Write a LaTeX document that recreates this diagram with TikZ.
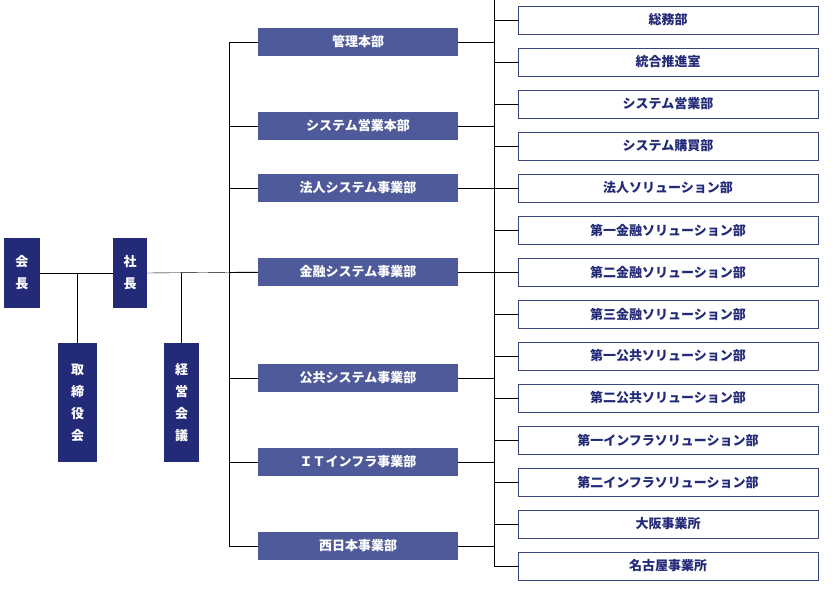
\documentclass[tikz,border=0pt]{standalone}
\usepackage{fontspec}
\newfontfamily\cjk{Noto Sans CJK JP}
\definecolor{navy}{HTML}{232B79}
\definecolor{midblue}{HTML}{4E5A99}
\definecolor{framegray}{HTML}{3A4580}
\begin{document}
\begin{tikzpicture}[x=1pt, y=-1pt,
	every node/.style = {font=\cjk\bfseries\fontsize{13}{16}\selectfont},
	top/.style = {fill=navy, text=white, minimum width=36pt, align=center, inner sep=0pt},
	dept/.style = {fill=midblue, text=white, minimum width=200pt, minimum height=28pt, inner sep=0pt},
	unit/.style = {draw=framegray, fill=white, text=navy, minimum width=300pt, minimum height=28pt, inner sep=0pt}]

	\useasboundingbox (0, 0) rectangle (839, 589);

	% Top management

	\node [top, minimum height=70pt] (kaicho) at (22, 273) {会\\[6pt]長};
	\node [top, minimum height=70pt, minimum width=34pt] (shacho) at (130, 273) {社\\[6pt]長};
	\node [top, minimum height=119pt, minimum width=39pt] (torishimari) at (77.5, 402.5) {取\\[6pt]締\\[6pt]役\\[6pt]会};
	\node [top, minimum height=119pt, minimum width=35pt] (keiei) at (181.5, 402.5) {経\\[6pt]営\\[6pt]会\\[6pt]議};

	\coordinate (t1) at (77.5, 273);
	\coordinate (t2) at (181.5, 273);
	\coordinate (trunktop) at (229, 42);
	\coordinate (trunkbot) at (229, 546);

	% Departments

	\foreach \name/\y/\label in {kanri/42/管理本部, syseigyo/126/システム営業本部, hojin/188/法人システム事業部,
		kinyu/272/金融システム事業部, kokyo/378/公共システム事業部, infra/462/ＩＴインフラ事業部, nishi/546/西日本事業部}
		\node [dept] (\name) at (358, \y) {\label};

	% Units

	\foreach \name/\y/\label in {u1/20/総務部, u2/62/統合推進室, u3/104/システム営業部, u4/146/システム購買部,
		u5/188/法人ソリューション部, u6/230/第一金融ソリューション部, u7/272/第二金融ソリューション部,
		u8/314/第三金融ソリューション部, u9/356/第一公共ソリューション部, u10/398/第二公共ソリューション部,
		u11/440/第一インフラソリューション部, u12/482/第二インフラソリューション部, u13/524/大阪事業所, u14/566/名古屋事業所}
		\node [unit] (\name) at (668, \y) {\label};

	% Lines

	\begin{scope}[thin]

		\draw (kaicho.east |- 0, 273) -- (shacho.west |- 0, 273);
		\draw (shacho.east |- 0, 273) -- (kinyu.west);
		\draw (t1) -- (torishimari.north);
		\draw (t2) -- (keiei.north);
		\draw (trunktop) -- (trunkbot);

		\foreach \d in {kanri, syseigyo, hojin, kinyu, kokyo, infra, nishi}
			\draw (trunktop |- \d.west) -- (\d.west);

		\foreach \d/\a/\b in {kanri/u1/u2, syseigyo/u3/u4, kinyu/u6/u8, kokyo/u9/u10, infra/u11/u12, nishi/u13/u14}
		{
			\draw (\d.east) -- (494, 0 |- \d.east);
			\draw (\a.west) -| (494, 0) |- (\b.west);
		}
		\draw (494, 0 |- u1.west) -- (494, 0 |- u2.west);
		\draw (u7.west) -- (494, 272);
		\draw (hojin.east) -- (u5.west);

	\end{scope}

\end{tikzpicture}
\end{document}
